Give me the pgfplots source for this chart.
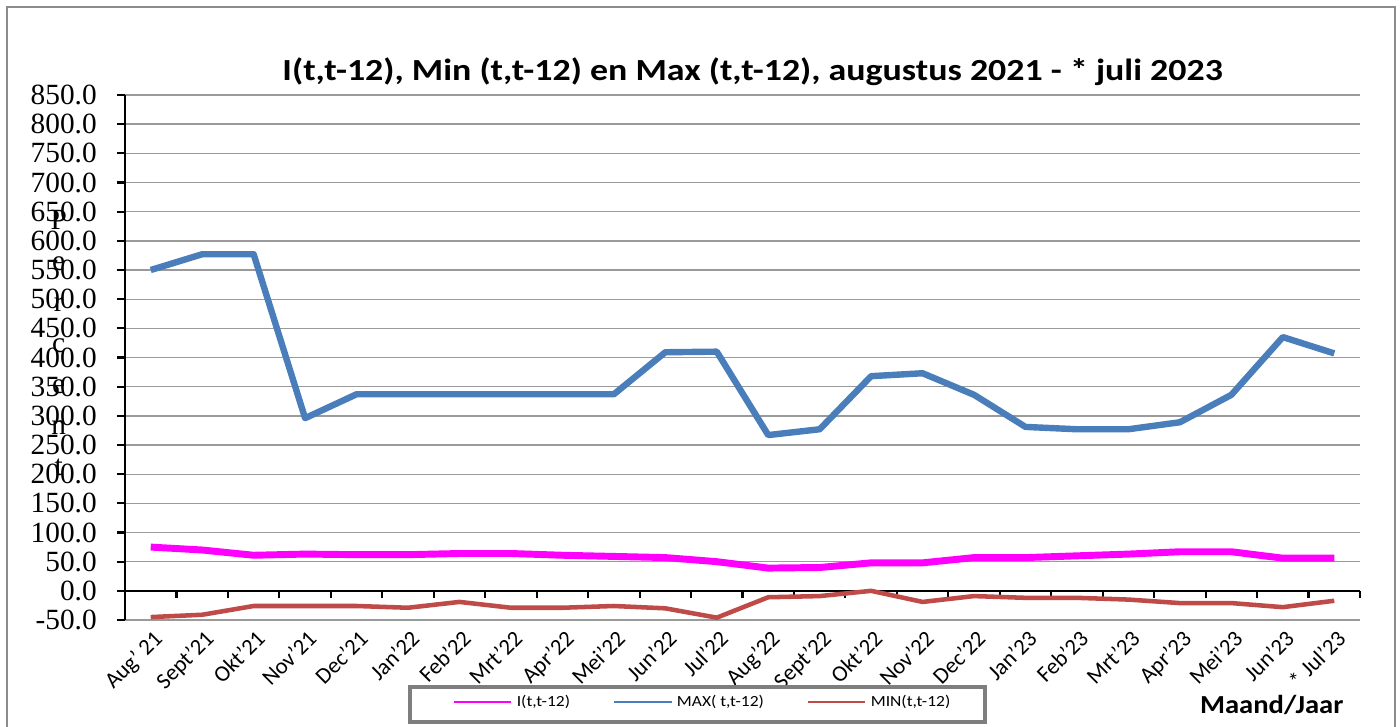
\documentclass[border=0pt]{standalone}
\usepackage{fontspec}
\setmainfont{Carlito}
\newfontfamily\serif{Liberation Serif}
\usepackage{graphicx}
\usepackage{pgfplots}
\usepackage{pgfplotstable}
\pgfplotsset{compat=1.18}
\definecolor{pinkI}{HTML}{FF00FF}
\definecolor{blueM}{HTML}{4A7EBB}
\definecolor{redM}{HTML}{BE4B48}
\definecolor{gridc}{HTML}{9A9A9A}
\definecolor{framec}{HTML}{8C8C8C}
\pgfplotstableread{
idx I MAX MIN
0 75 550 -45
1 70 577 -41
2 61 577 -26
3 63 296 -26
4 62 337 -26
5 62 337 -29
6 64 337 -19
7 64 337 -29
8 61 337 -29
9 59 337 -26
10 57 409 -30
11 50 410 -46
12 39 267 -11
13 40 277 -9
14 48 368 0
15 48 373 -19
16 57 336 -9
17 57 281 -12
18 60 277 -12
19 63 277 -15
20 67 289 -21
21 67 336 -21
22 56 435 -28
23 56 407 -17
}\datatable
\newcommand{\legtxt}[1]{\scalebox{1.13}[1]{#1}}
\begin{document}
\begin{tikzpicture}
\useasboundingbox (0,0) rectangle (1050pt,544.5pt);
\draw[framec, line width=1.5pt] (5pt,-5pt) rectangle (1046pt,539.5pt);
% main axis: grid, y axis, labels
\begin{axis}[
  at={(93.75pt,79.5pt)}, anchor=south west,
  scale only axis, width=926.25pt, height=393.75pt,
  xmin=-0.5, xmax=23.5, ymin=-50, ymax=850,
  axis x line*=bottom, axis y line*=left,
  x axis line style={draw=none},
  y axis line style={black, line width=1.6pt, -},
  ytick={-50,0,...,850},
  ymajorgrids, grid style={gridc, line width=1pt},
  tick align=outside,
  ytick style={black, line width=1.6pt},
  major tick length=6pt,
  xtick={0,...,23},
  xtick style={draw=none},
  xticklabels={Aug' 21,Sept'21,Okt'21,Nov'21,Dec'21,Jan'22,Feb'22,Mrt'22,Apr'22,Mei'22,Jun'22,Jul'22,Aug'22,Sept'22,Okt'22,Nov'22,Dec'22,Jan'23,Feb'23,Mrt'23,Apr'23,Mei'23,Jun'23,* Jul'23},
  xticklabel style={font=\fontsize{17}{17}\selectfont, rotate=45, anchor=north east, inner sep=1pt, xshift=1.5pt, yshift=0pt},
  yticklabel style={font=\serif\fontsize{22}{22}\selectfont, inner sep=1pt, anchor=east, xshift=-14pt},
  /pgf/number format/assume math mode=true,
  yticklabel={\pgfmathprintnumber[fixed, fixed zerofill, precision=1]{\tick}},
]
\end{axis}
% second axis: zero line with ticks, data, legend
\begin{axis}[
  at={(93.75pt,79.5pt)}, anchor=south west,
  scale only axis, width=926.25pt, height=393.75pt,
  xmin=-0.5, xmax=23.5, ymin=-50, ymax=850,
  axis x line=middle, axis y line=none,
  x axis line style={black, line width=1.6pt, -},
  xtick={-0.5,0.5,...,23.5}, xticklabels={},
  ytick=\empty,
  tick align=outside,
  major tick length=5.5pt,
  xtick style={black, line width=1.6pt},
  legend style={at={(0.265,-0.1562)}, anchor=west, draw=none, fill=none,
    inner sep=0pt, font=\fontsize{11.6}{12}\selectfont,
    nodes={inner xsep=3pt, inner ysep=1pt}},
  legend columns=3,
  legend cell align=left,
  /tikz/every even column/.append style={column sep=29pt},
]
\addplot[pinkI, line width=5.2pt, line join=round,
  legend image code/.code={\draw[pinkI, line width=2.2pt] (0pt,0pt) -- (43pt,0pt);}]
  table[x=idx, y=I] {\datatable};
\addlegendentry{\legtxt{I(t,t-12)}}
\addplot[blueM, line width=4.8pt, line join=round,
  legend image code/.code={\draw[blueM, line width=2.2pt] (0pt,0pt) -- (43pt,0pt);}]
  table[x=idx, y=MAX] {\datatable};
\addlegendentry{\legtxt{MAX( t,t-12)}}
\addplot[redM, line width=3.4pt, line join=round,
  legend image code/.code={\draw[redM, line width=2.2pt] (0pt,0pt) -- (43pt,0pt);}]
  table[x=idx, y=MIN] {\datatable};
\addlegendentry{\legtxt{MIN(t,t-12)}}
\end{axis}
\draw[framec!90!black, line width=2.3pt] (307.5pt,3pt) rectangle (738.75pt,29.25pt);
\node[font=\bfseries\fontsize{23}{25}\selectfont, anchor=base, xscale=1.17, inner sep=0pt] at (564.4pt,484pt) {I(t,t-12), Min (t,t-12) en Max (t,t-12), augustus 2021 - * juli 2023};
\node[font=\bfseries\fontsize{19.5}{22}\selectfont, anchor=base, xscale=1.1, inner sep=0pt] at (953.8pt,9.5pt) {Maand/Jaar};
\node[font=\serif\fontsize{22}{30.75}\selectfont, align=center, inner sep=0pt] at (44pt,287.4pt)
  {P\\e\\r\\c\\e\\n\\t};
\end{tikzpicture}
\end{document}
